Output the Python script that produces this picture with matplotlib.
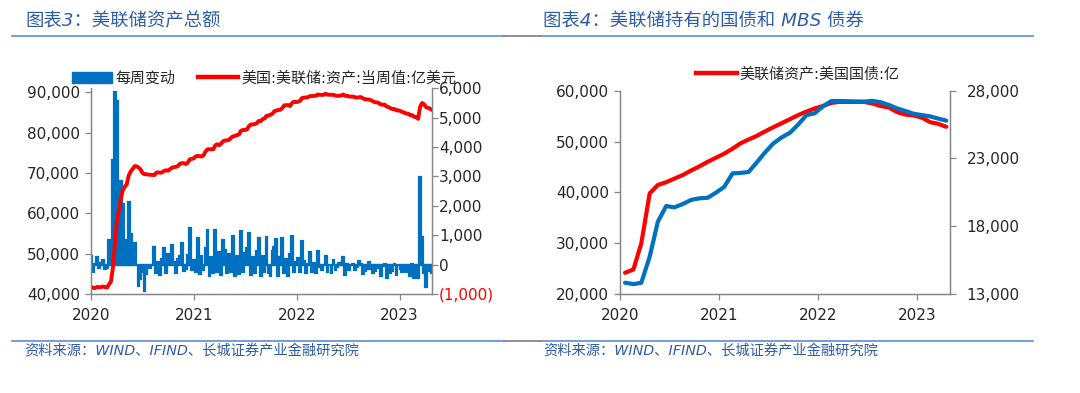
import matplotlib
matplotlib.use('Agg')
import matplotlib.pyplot as plt
import matplotlib.patches as mpatches
from matplotlib.lines import Line2D
import pandas as pd

plt.rcParams['font.family'] = ['DejaVu Sans', 'Noto Sans CJK SC']

# ---------------- data: 图表3 (weekly, 亿美元) ----------------
weeks = pd.date_range('2020-01-01', '2023-04-26', freq='W-WED')

total_assets = [
    # 2020
    41730, 41480, 41490, 41760, 41660, 41710, 41850, 41710, 41590, 42410,
    43120, 46680, 52540, 58100, 60830, 63680, 65730, 66560, 67210, 69340,
    70370, 70970, 71690, 71660, 71370, 70880, 70000, 69690, 69690, 69580,
    69560, 69520, 69480, 70070, 70160, 70060, 70170, 70540, 70650, 70570,
    70940, 71330, 71450, 71530, 71720, 72280, 72420, 72440, 72220, 72560,
    73380, 73480, 73620,
    # 2021
    74080, 74250, 74170, 74080, 74380, 75300, 75860, 75890, 75870, 75900,
    76880, 77120, 76900, 77320, 77880, 78070, 78070, 78230, 78760, 79060,
    79190, 79400, 79530, 80450, 80670, 80650, 80780, 81560, 82010, 82070,
    82110, 82320, 82900, 82830, 83330, 83530, 84170, 84210, 84430, 84680,
    85320, 85480, 85620, 85660, 86090, 86770, 86810, 86830, 86600, 87370,
    87680, 87570,
    # 2022
    87660, 87880, 88560, 88680, 88730, 88760, 89070, 89070, 89120, 89120,
    89460, 89370, 89370, 89370, 89650, 89410, 89390, 89360, 89360, 89190,
    89100, 89150, 89210, 89460, 89110, 89130, 88940, 88920, 88930, 88740,
    88670, 88780, 88810, 88490, 88260, 88260, 88210, 88060, 87780, 87560,
    87490, 87370, 86970, 86930, 86940, 86470, 86330, 86040, 85830, 85860,
    85510, 85510,
    # 2023
    85360, 85100, 84970, 84710, 84710, 84320, 84340, 83900, 83890, 83420,
    86390, 87330, 87060, 86310, 86140, 85930, 85630,
]

weekly_change = [
    300, -250, 20, 270, -100, 50, 140, -140, -120, 820,
    710, 3560, 5860, 5560, 2730, 2850, 2050, 830, 650, 2130,
    1030, 600, 720, -30, -740, -490, -250, -910, -310, 0,
    -110, -20, 590, -300, 90, -350, 200, 570, -280, 370,
    120, 650, 80, -300, 190, 300, 740, -220, -150, 340,
    1250, -200, 140, -250, 910, -320, 300, -200, 550, 1190,
    -380, 250, -300, 1190, -250, 420, -350, 850, 480, -300,
    350, -250, 960, -400, 280, -330, 1130, -250, 400, 580,
    1080, -350, 250, -300, 450, 900, -400, 300, -250, 930,
    -300, -400, 450, 600, 880, -380, 250, 910, -300, 200,
    -400, 350, 960, -250, 90, 220, -250, 790, 120, -300,
    30, 420, -250, 50, -300, 460, -90, -200, 0, 300,
    -240, -20, -300, 150, -170, -90, 50, 60, 250, -350,
    20, -190, -20, 10, -190, -70, 110, 30, -320, -230,
    -150, 100, -150, -280, -220, -70, -120, -400, -40, 10,
    -470, -140, -290, -210, 30, -350, 0, -150, -260, -130,
    -260, 0, -390, 20, -440, -10, -470, 2970, 940, -270,
    -750, -170, -210, -300,
]

# ---------------- data: 图表4 (monthly, 亿美元) ----------------
months = pd.date_range('2020-01-01', '2023-04-01', freq='MS') + pd.Timedelta(days=19)

treasury = [
    24170, 24840, 29960, 39800, 41440, 42000, 42700, 43400, 44300, 45100,
    46000, 46800, 47600, 48600, 49600, 50400, 51100, 52000, 52800, 53600,
    54400, 55200, 55900, 56500, 57000, 57600, 57800, 57800, 57800, 57800,
    57500, 57000, 56700, 55800, 55300, 55150, 54700, 53800, 53500, 52900,
]
mbs = [
    13830, 13730, 13830, 15750, 18330, 19490, 19390, 19640, 19940, 20060,
    20100, 20470, 20900, 21900, 21930, 22000, 22700, 23450, 24100, 24550,
    24900, 25500, 26200, 26330, 26850, 27240, 27240, 27220, 27200, 27190,
    27250, 27150, 26950, 26700, 26500, 26300, 26200, 26100, 25950, 25790,
]

year_ticks = pd.to_datetime(['2020-01-01', '2021-01-01', '2022-01-01', '2023-01-01'])
year_labels = ['2020', '2021', '2022', '2023']

left3_ticks = [40000, 50000, 60000, 70000, 80000, 90000]
left3_labels = ['40,000', '50,000', '60,000', '70,000', '80,000', '90,000']
right3_ticks = [-1000, 0, 1000, 2000, 3000, 4000, 5000, 6000]
right3_labels = ['(1,000)', '0', '1,000', '2,000', '3,000', '4,000', '5,000', '6,000']
left4_ticks = [20000, 30000, 40000, 50000, 60000]
left4_labels = ['20,000', '30,000', '40,000', '50,000', '60,000']
right4_ticks = [13000, 18000, 23000, 28000]
right4_labels = ['13,000', '18,000', '23,000', '28,000']

BLUE = '#0070C0'
RED = '#FF0000'
AXIS = '#868686'
TXT = '#262626'
TITLE = '#2F5CA8'
RULE = '#5B8ED6'
W, H = 1080, 393


def fx(px):
    return px / W


def fy(py):
    return 1 - py / H


def style_axes(ax, ypad):
    for s in ax.spines.values():
        s.set_color(AXIS)
        s.set_linewidth(0.9)
    ax.spines['top'].set_visible(False)
    ax.tick_params(axis='both', colors=AXIS, labelcolor=TXT, labelsize=11,
                   direction='out', length=4, width=0.9)
    ax.tick_params(axis='x', pad=6)
    ax.tick_params(axis='y', pad=ypad)


fig = plt.figure(figsize=(W / 100, H / 100), dpi=100)

# ---------------- 图表3 ----------------
ax1 = fig.add_axes([fx(91.3), fy(294), fx(432.2 - 91.3), (294 - 88.2) / H])
ax1b = ax1.twinx()
ax1b.bar(weeks, weekly_change, width=6.5, color=BLUE, edgecolor=BLUE, linewidth=1.6)
ax1.plot(weeks, total_assets, color=RED, lw=2.8, solid_capstyle='round')
ax1.set_zorder(ax1b.get_zorder() + 1)
ax1.patch.set_visible(False)

ax1.set_xlim(pd.Timestamp('2020-01-01'), pd.Timestamp('2023-04-27'))
ax1.set_ylim(40000, 91016)
ax1b.set_ylim(-1000, 6000)
ax1.set_xticks(year_ticks)
ax1.set_xticklabels(year_labels)
ax1.set_yticks(left3_ticks)
ax1.set_yticklabels(left3_labels)
ax1b.set_yticks(right3_ticks)
ax1b.set_yticklabels(right3_labels)
style_axes(ax1, 4)
style_axes(ax1b, 1)
ax1b.get_yticklabels()[0].set_color(RED)

h1 = [mpatches.Patch(color=BLUE), Line2D([], [], color=RED, lw=3.2)]
fig.legend(h1, ['每周变动', '美国:美联储:资产:当周值:亿美元'], loc='center',
           bbox_to_anchor=(fx(264), fy(78)), ncol=2, frameon=False,
           fontsize=10.8, handlelength=2.7, handletextpad=0.2, columnspacing=1.5,
           labelcolor=TXT)

# ---------------- 图表4 ----------------
ax2 = fig.add_axes([fx(619.9), fy(294), fx(949.8 - 619.9), (294 - 90.7) / H])
ax2b = ax2.twinx()
ax2.plot(months, treasury, color=RED, lw=3.0, solid_capstyle='round')
ax2b.plot(months, mbs, color=BLUE, lw=3.0, solid_capstyle='round')
ax2.set_xlim(pd.Timestamp('2020-01-01'), pd.Timestamp('2023-05-03'))
ax2.set_ylim(20000, 60000)
ax2b.set_ylim(13000, 28000)
ax2.set_xticks(year_ticks)
ax2.set_xticklabels(year_labels)
ax2.set_yticks(left4_ticks)
ax2.set_yticklabels(left4_labels)
ax2b.set_yticks(right4_ticks)
ax2b.set_yticklabels(right4_labels)
style_axes(ax2, 4)
style_axes(ax2b, 8)

h2 = [Line2D([], [], color=RED, lw=3.2)]
fig.legend(h2, ['美联储资产:美国国债:亿'], loc='center',
           bbox_to_anchor=(fx(798), fy(74)), frameon=False,
           fontsize=10.8, handlelength=2.7, handletextpad=0.2, labelcolor=TXT)

# ---------------- titles, rules, sources ----------------
fig.text(fx(25), fy(21.5), '图表3：美联储资产总额', color=TITLE, fontsize=13.2,
         style='italic', va='center', ha='left')
fig.text(fx(543.4), fy(21.5), '图表4：美联储持有的国债和 MBS 债券', color=TITLE,
         fontsize=13.2, style='italic', va='center', ha='left')

for y in (36.3, 341):
    fig.add_artist(Line2D([fx(12.4), fx(504)], [fy(y), fy(y)], color=RULE, lw=1.2))
    fig.add_artist(Line2D([fx(504), fx(540)], [fy(y), fy(y)], color='#7F7F7F', lw=1.2))
    fig.add_artist(Line2D([fx(540), fx(1033)], [fy(y), fy(y)], color=RULE, lw=1.2))

src = '资料来源：WIND、IFIND、长城证券产业金融研究院'
fig.text(fx(24), fy(352), src, color=TITLE, fontsize=10.3, style='italic',
         va='center', ha='left')
fig.text(fx(543.4), fy(352), src, color=TITLE, fontsize=10.3, style='italic',
         va='center', ha='left')

fig.savefig('out.png', dpi=100)
